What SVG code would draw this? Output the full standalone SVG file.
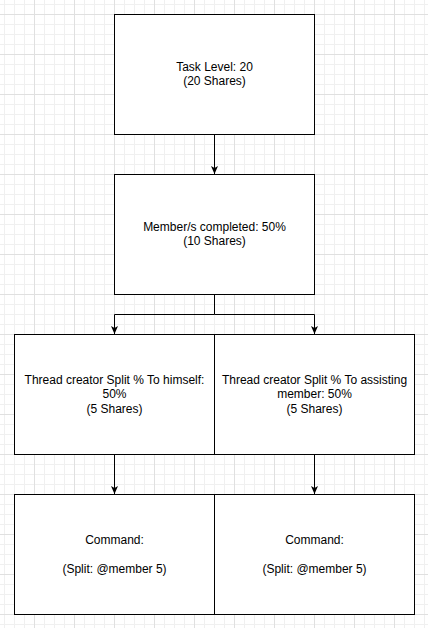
<svg xmlns="http://www.w3.org/2000/svg" width="428" height="628" viewBox="0 0 428 628">
  <defs>
    <pattern id="grid" x="34" y="14" width="40" height="40" patternUnits="userSpaceOnUse">
      <path d="M10.5 0V40M20.5 0V40M30.5 0V40M0 10.5H40M0 20.5H40M0 30.5H40" stroke="#f0f0f0" stroke-width="1" fill="none"/>
      <path d="M0.5 0V40M0 0.5H40" stroke="#e0e0e0" stroke-width="1" fill="none"/>
    </pattern>
    <marker id="arrow" markerWidth="8" markerHeight="8" refX="8" refY="4" orient="auto" markerUnits="userSpaceOnUse">
      <path d="M0,0.5 L8,4 L0,7.5 L2,4 Z" fill="#000"/>
    </marker>
    <style>
      .box { fill: #fff; stroke: #000; stroke-width: 1; }
      .edge { fill: none; stroke: #000; stroke-width: 1; }
      text { font-family: "Liberation Sans", Arial, Helvetica, sans-serif; font-size: 12px; fill: #000; text-anchor: middle; }
    </style>
  </defs>
  <rect x="0" y="0" width="428" height="628" fill="#fff"/>
  <rect x="0" y="0" width="428" height="628" fill="url(#grid)"/>

  <g id="connectors">
    <path class="edge" d="M214.5 134.5V174" marker-end="url(#arrow)"/>
    <path class="edge" d="M214.5 294.5V314.5H114.5V334" marker-end="url(#arrow)"/>
    <path class="edge" d="M214.5 314.5H314.5V334" marker-end="url(#arrow)"/>
    <path class="edge" d="M114.5 454.5V494" marker-end="url(#arrow)"/>
    <path class="edge" d="M314.5 454.5V494" marker-end="url(#arrow)"/>
  </g>

  <g id="task-level">
    <rect class="box" x="114.5" y="14.5" width="200" height="120"/>
    <text x="214.5" y="71">Task Level: 20</text>
    <text x="214.5" y="85.4">(20 Shares)</text>
  </g>

  <g id="members-completed">
    <rect class="box" x="114.5" y="174.5" width="200" height="120"/>
    <text x="214.5" y="231">Member/s completed: 50%</text>
    <text x="214.5" y="245.4">(10 Shares)</text>
  </g>

  <g id="split-himself">
    <rect class="box" x="14.5" y="334.5" width="200" height="120"/>
    <text x="114.5" y="383.7">Thread creator Split % To himself:</text>
    <text x="114.5" y="398.1">50%</text>
    <text x="114.5" y="412.5">(5 Shares)</text>
  </g>

  <g id="split-assisting">
    <rect class="box" x="214.5" y="334.5" width="200" height="120"/>
    <text x="314.5" y="383.7">Thread creator Split % To assisting</text>
    <text x="314.5" y="398.1">member: 50%</text>
    <text x="314.5" y="412.5">(5 Shares)</text>
  </g>

  <g id="command-left">
    <rect class="box" x="14.5" y="494.5" width="200" height="120"/>
    <text x="114.5" y="544">Command:</text>
    <text x="114.5" y="572.8">(Split: @member 5)</text>
  </g>

  <g id="command-right">
    <rect class="box" x="214.5" y="494.5" width="200" height="120"/>
    <text x="314.5" y="544">Command:</text>
    <text x="314.5" y="572.8">(Split: @member 5)</text>
  </g>
</svg>
